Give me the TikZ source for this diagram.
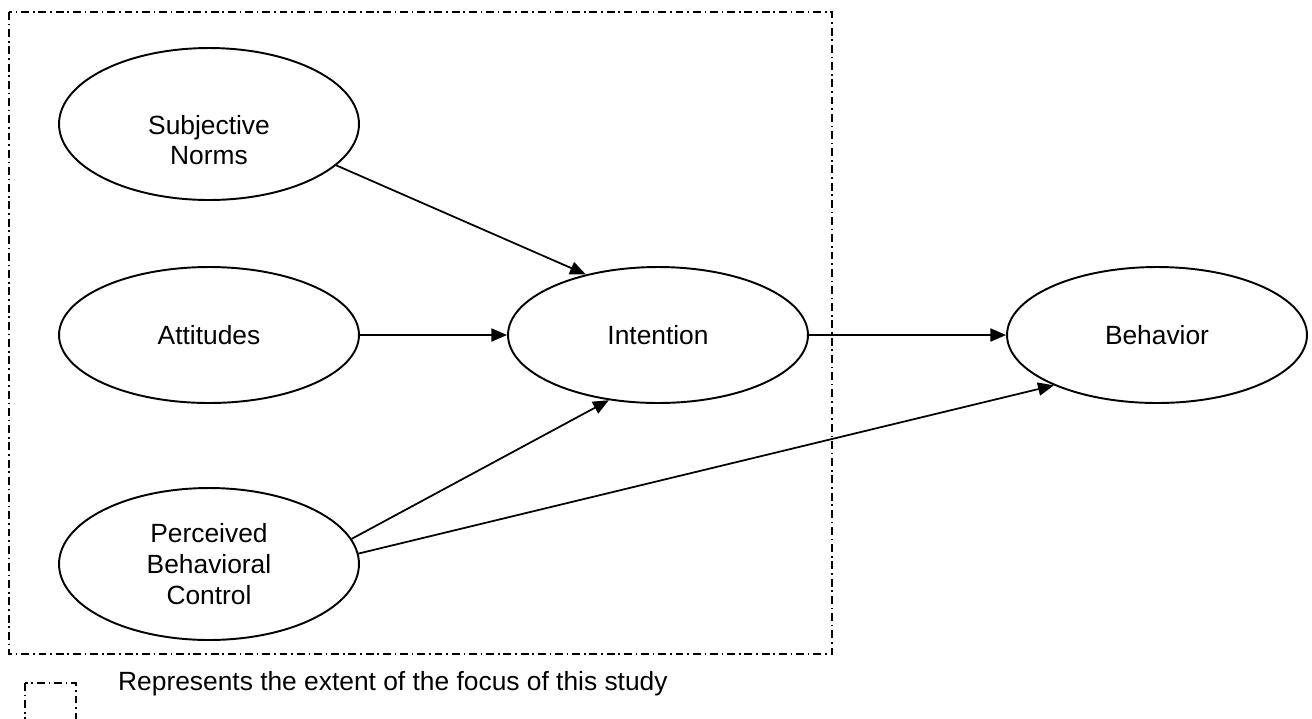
\documentclass[tikz,border=0pt]{standalone}
\usepackage{fontspec}
\setmainfont{Liberation Sans}
\usetikzlibrary{shapes.geometric,arrows.meta}

\begin{document}
\begin{tikzpicture}[
    x=0.02cm, y=-0.02cm,
    oval/.style={draw, line width=1.1pt, ellipse, minimum width=6cm, minimum height=2.72cm, align=center, font=\fontsize{15}{17.5}\selectfont, inner sep=0pt},
    txt/.style={align=center, font=\fontsize{15}{17.5}\selectfont},
    arr/.style={-{Triangle[length=9pt,width=7.5pt]}, line width=1pt},
    focus/.style={line width=1pt, dash pattern=on 4.5pt off 2.2pt on 0.9pt off 2.2pt}
]
    \useasboundingbox (0,0) rectangle (1312,718);

    % Focus of study
    \draw[focus] (9,12) rectangle (832,654);

    % Predictors
    \node[oval, minimum height=3.04cm] (sn) at (209,124) {};
    \node[txt] (sntext) at (209,140) {Subjective\\Norms};
    \node[oval] (att) at (209,335) {Attitudes};
    \node[oval, minimum height=3.04cm] (pbc) at (209,564) {Perceived\\Behavioral\\Control};

    % Intention and behavior
    \node[oval] (int) at (658,335) {Intention};
    \node[oval] (beh) at (1157,335) {Behavior};

    % Arrows
    \draw[arr] (sn.-18) -- (int.140);
    \draw[arr] (att.east) -- (int.west);
    \draw[arr] (pbc.10) -- (int.-127);
    \draw[arr] (pbc.4) -- (beh.-154);
    \draw[arr] (int.east) -- (beh.west);

    % Legend
    \draw[focus] (25,683) rectangle (76,728);
    \node[txt, anchor=west] (legend) at (112,684) {Represents the extent of the focus of this study};
\end{tikzpicture}
\end{document}
